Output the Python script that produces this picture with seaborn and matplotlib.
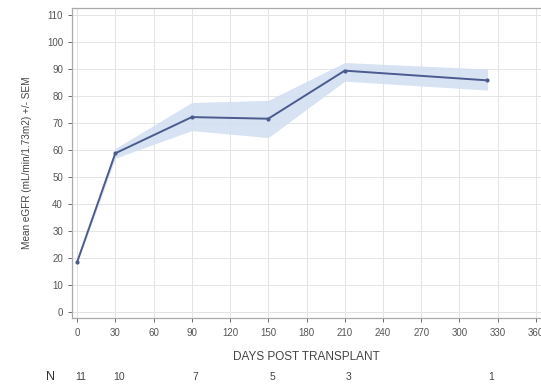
import matplotlib
matplotlib.use("Agg")
import matplotlib.pyplot as plt
import seaborn as sns
import pandas as pd

# Mean eGFR over time after transplant, with SEM band
days = [0, 30, 90, 150, 210, 322]
mean_egfr = [18.5, 58.8, 72.2, 71.6, 89.4, 85.8]
sem_lower = [18.0, 57.0, 67.2, 64.6, 85.5, 82.2]
sem_upper = [19.0, 60.6, 77.6, 78.4, 92.4, 90.0]

n_days = [0, 30, 90, 150, 210, 322]
n_labels = ["11", "10", "7", "5", "3", "1"]

x_ticks = list(range(0, 361, 30))
y_ticks = list(range(0, 111, 10))

df = pd.DataFrame({"day": days, "egfr": mean_egfr})

sns.set_theme(style="whitegrid")
plt.rcParams["font.family"] = ["Liberation Sans", "DejaVu Sans"]

fig = plt.figure(figsize=(5.41, 3.86), dpi=100)
ax = fig.add_axes([72 / 541, 1 - 318 / 386, 1 - 72 / 541, (318 - 8) / 386])

line_color = "#4b5b8e"
band_color = "#d3e0f2"

ax.fill_between(days, sem_lower, sem_upper, color=band_color, alpha=0.9, lw=0, zorder=2)
sns.lineplot(data=df, x="day", y="egfr", ax=ax, color=line_color, lw=1.4,
             marker="o", markersize=3, markeredgewidth=0, zorder=3)

ax.set_xlim(-4, 364)
ax.set_ylim(-2.2, 112.6)
ax.set_xticks(x_ticks)
ax.set_yticks(y_ticks)
ax.tick_params(axis="both", which="both", bottom=True, left=True,
               labelsize=7, colors="#555555", length=3, width=0.6, direction="out")
ax.tick_params(axis="x", pad=4.5)
ax.tick_params(axis="y", pad=3.5)

ax.grid(True, color="#e4e4e4", lw=0.7)
for side in ["left", "bottom", "top"]:
    ax.spines[side].set_visible(True)
    ax.spines[side].set_color("#aaaaaa")
    ax.spines[side].set_linewidth(0.9)
ax.spines["right"].set_visible(False)

ax.set_xlabel("DAYS POST TRANSPLANT", fontsize=8.5, color="#444444")
ax.xaxis.set_label_coords(0.5, -0.126)
ax.xaxis.label.set_va("center")
ax.set_ylabel("Mean eGFR (mL/min/1.73m2) +/- SEM", fontsize=7.2, color="#444444", labelpad=11)

# Number at risk row beneath the axis
trans = ax.get_xaxis_transform()
ax.text(-21, -0.19, "N", transform=trans, fontsize=9, color="#333333",
        ha="center", va="center", clip_on=False)
for d, lab in zip(n_days, n_labels):
    ax.text(d + 3, -0.19, lab, transform=trans, fontsize=7.5, color="#444444",
            ha="center", va="center", clip_on=False)

fig.savefig("out.png", dpi=100)
